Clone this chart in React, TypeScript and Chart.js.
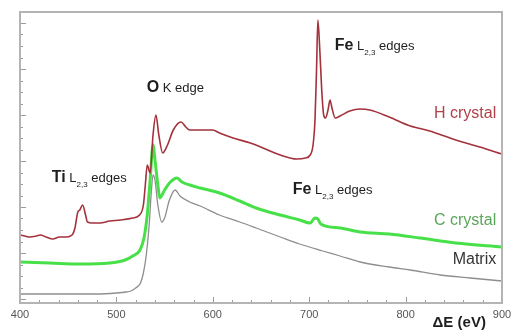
import React, { useEffect, useRef } from "react";
import { Chart, registerables } from "chart.js";

Chart.register(...registerables);

// Energy loss (eV) and intensity (arbitrary units) for each spectrum
const hCrystalE = [400, 405, 410, 417, 421, 427, 434, 441, 448, 454, 457, 460, 462, 465, 468, 470, 475, 483, 493, 504, 517, 524, 528, 530, 532, 535, 538, 541, 544, 548, 553, 559, 567, 572, 576, 587, 600, 607, 621, 639, 652, 670, 687, 696, 701, 704, 706, 707.6, 709, 711, 713, 715, 717, 719.5, 721.6, 723.6, 727, 732, 742, 753, 763, 783, 805, 825, 852, 877, 900];
const hCrystalI = [68, 67, 66, 67, 68, 66, 64, 66, 66, 68, 75, 91, 93, 98, 88, 81, 80, 80, 82, 83, 85, 88, 98, 118, 138, 130, 168, 188, 168, 150, 158, 173, 181, 176, 173, 173, 173, 170, 165, 160, 155, 148, 144, 145, 148, 158, 183, 233, 283, 253, 213, 188, 185, 193, 203, 195, 185, 187, 192, 194, 193, 186, 177, 172, 163, 156, 149];

const cCrystalE = [400, 431, 462, 493, 509, 517, 524.5, 528.6, 532, 535, 538, 540, 543, 545, 550, 556, 563, 568, 576, 587, 607, 628, 645, 670, 690, 701, 706, 709, 712, 732, 753, 783, 815, 852, 900];
const cCrystalI = [41, 40, 39, 40, 43, 47, 53, 65, 88, 123, 158, 143, 118, 105, 113, 121, 125, 121, 118, 115, 110, 102, 95, 88, 83, 80, 85, 84, 79, 75, 71, 69, 65, 60, 56];

const matrixE = [400, 420, 440, 460, 480, 500, 510, 515, 520, 525, 528, 531, 534, 536, 538, 540, 543, 547, 550, 555, 561, 566, 576, 587, 607, 628, 645, 670, 690, 714, 732, 753, 783, 805, 836, 867, 900];
const matrixI = [9, 9, 9, 9, 9, 10, 11, 12, 15, 20, 30, 48, 78, 108, 128, 123, 98, 81, 85, 103, 113, 107, 101, 97, 88, 81, 75, 66, 59, 52, 47, 41, 36, 33, 28, 25, 22];

const xMin = 400;
const xMax = 900;
const xLabelStep = 100;
const xMinorStep = 20;
const yMax = 291;

const FONT = "'Liberation Sans', Arial, sans-serif";

type Part = { t: string; size: number; bold?: boolean; dy?: number };

function drawRich(ctx: CanvasRenderingContext2D, x: number, y: number, parts: Part[], color: string) {
  let cx = x;
  ctx.textBaseline = "middle";
  ctx.textAlign = "left";
  ctx.fillStyle = color;
  for (const p of parts) {
    ctx.font = `${p.bold ? "bold " : ""}${p.size}px ${FONT}`;
    ctx.fillText(p.t, cx, y + (p.dy || 0));
    cx += ctx.measureText(p.t).width;
  }
}

const edgeLabels = [
  { e: 531.5, i: 215, parts: [{ t: "O", size: 16, bold: true }, { t: " K edge", size: 13 }] },
  { e: 726.5, i: 257, parts: [{ t: "Fe", size: 16, bold: true }, { t: " L", size: 13 }, { t: "2,3", size: 8, dy: 7 }, { t: " edges", size: 13 }] },
  { e: 683, i: 113, parts: [{ t: "Fe", size: 16, bold: true }, { t: " L", size: 13 }, { t: "2,3", size: 8, dy: 7 }, { t: " edges", size: 13 }] },
  { e: 433, i: 125, parts: [{ t: "Ti", size: 16, bold: true }, { t: " L", size: 13 }, { t: "2,3", size: 8, dy: 7 }, { t: " edges", size: 13 }] },
];

const seriesLabels = [
  { text: "H crystal", e: 894, i: 189, color: "#b0404a" },
  { text: "C crystal", e: 894, i: 82, color: "#5aa65a" },
  { text: "Matrix", e: 894, i: 43, color: "#333333" },
];

const decorPlugin = {
  id: "decor",
  afterDraw(chart: any) {
    const ctx: CanvasRenderingContext2D = chart.ctx;
    const xs = chart.scales.x;
    const ys = chart.scales.y;
    const a = chart.chartArea;
    ctx.save();
    // inward tick marks
    ctx.strokeStyle = "#9a9a9a";
    ctx.lineWidth = 1;
    for (let v = xMin; v <= xMax; v += xMinorStep) {
      const px = Math.round(xs.getPixelForValue(v)) + 0.5;
      const len = v % xLabelStep === 0 ? 6 : 3;
      ctx.beginPath();
      ctx.moveTo(px, a.bottom);
      ctx.lineTo(px, a.bottom - len);
      ctx.stroke();
    }
    let k = 0;
    for (let v = 4; v <= yMax; v += 11.5, k++) {
      const py = Math.round(ys.getPixelForValue(v)) + 0.5;
      const len = k % 4 === 0 ? 6 : 3;
      ctx.beginPath();
      ctx.moveTo(a.left, py);
      ctx.lineTo(a.left + len, py);
      ctx.stroke();
    }
    // frame
    ctx.strokeStyle = "#b4b4b4";
    ctx.lineWidth = 2;
    ctx.strokeRect(a.left, a.top, a.right - a.left, a.bottom - a.top);

    // annotations
    for (const l of edgeLabels) {
      drawRich(ctx, xs.getPixelForValue(l.e), ys.getPixelForValue(l.i), l.parts, "#1e1e1e");
    }
    ctx.textBaseline = "middle";
    ctx.textAlign = "right";
    ctx.font = `16px ${FONT}`;
    for (const s of seriesLabels) {
      ctx.fillStyle = s.color;
      ctx.fillText(s.text, xs.getPixelForValue(s.e), ys.getPixelForValue(s.i));
    }
    // axis title
    ctx.textAlign = "left";
    ctx.font = `bold 15px ${FONT}`;
    ctx.fillStyle = "#1e1e1e";
    ctx.fillText("\u0394E (eV)", xs.getPixelForValue(828), a.bottom + 20);
    ctx.restore();
  },
};

const toPts = (xs: number[], ys: number[]) => xs.map((x, i) => ({ x, y: ys[i] }));

export default function App() {
  const ref = useRef<HTMLCanvasElement>(null);
  useEffect(() => {
    if (!ref.current) return;
    const chart = new Chart(ref.current, {
      type: "line",
      data: {
        datasets: [
          {
            label: "H crystal",
            data: toPts(hCrystalE, hCrystalI),
            borderColor: "#a3323c",
            borderWidth: 1.6,
            pointRadius: 0,
            cubicInterpolationMode: "monotone",
          },
          {
            label: "C crystal",
            data: toPts(cCrystalE, cCrystalI),
            borderColor: "#48e048",
            borderWidth: 3,
            pointRadius: 0,
            cubicInterpolationMode: "monotone",
          },
          {
            label: "Matrix",
            data: toPts(matrixE, matrixI),
            borderColor: "#8e8e8e",
            borderWidth: 1.3,
            pointRadius: 0,
            cubicInterpolationMode: "monotone",
          },
        ],
      },
      options: {
        animation: false,
        responsive: false,
        events: [],
        layout: { padding: { left: 20, right: 10, top: 12, bottom: 0 } },
        plugins: { legend: { display: false }, tooltip: { enabled: false } },
        scales: {
          x: {
            type: "linear",
            min: xMin,
            max: xMax,
            grid: { display: false, drawTicks: false },
            border: { display: false },
            ticks: {
              stepSize: xMinorStep,
              autoSkip: false,
              maxRotation: 0,
              padding: 5,
              color: "#555555",
              font: { family: FONT, size: 11 },
              callback: (v: any) => (Number(v) % xLabelStep === 0 ? String(v) : ""),
            },
            afterFit: (s: any) => {
              s.height = 30;
              s.paddingLeft = 0;
              s.paddingRight = 0;
            },
          },
          y: {
            type: "linear",
            min: 0,
            max: yMax,
            grid: { display: false, drawTicks: false },
            border: { display: false },
            ticks: { display: false },
            afterFit: (s: any) => {
              s.width = 0;
            },
          },
        },
      } as any,
      plugins: [decorPlugin],
    });
    return () => chart.destroy();
  }, []);
  return (
    <div style={{ position: "absolute", left: 0, top: 0, width: 512, height: 333, background: "#fff" }}>
      <canvas ref={ref} width={512} height={333} />
    </div>
  );
}
